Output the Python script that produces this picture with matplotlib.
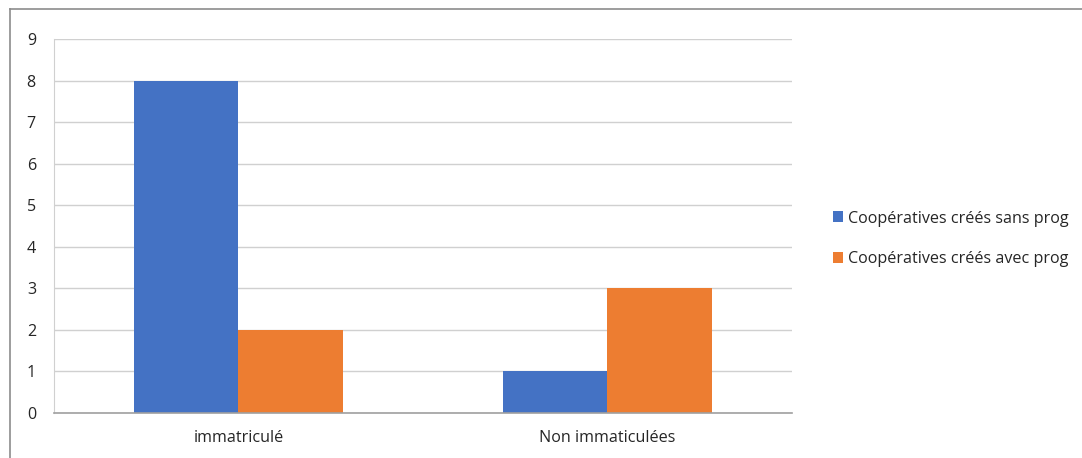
import matplotlib
matplotlib.use("Agg")
import matplotlib.pyplot as plt
from matplotlib.lines import Line2D
from matplotlib.patches import Patch
import numpy as np

plt.rcParams['font.family'] = ['Open Sans', 'DejaVu Sans']

categories = ["immatriculé", "Non immaticulées"]
series_names = ["Coopératives créés sans prog", "Coopératives créés avec prog"]
sans_prog = [8, 1]
avec_prog = [2, 3]
colors = ["#4472C4", "#ED7D31"]
y_ticks = list(range(0, 10))

W, H = 1082, 458
fig = plt.figure(figsize=(W / 100, H / 100), dpi=100)
fig.patch.set_facecolor("white")

# plot area in pixel coordinates
left, right, top, bottom = 54, 792, 39, 413
ax = fig.add_axes([left / W, 1 - bottom / H, (right - left) / W, (bottom - top) / H])

x = np.arange(len(categories))
bw = 0.283
ax.bar(x - bw / 2, sans_prog, width=bw, color=colors[0], zorder=3)
ax.bar(x + bw / 2, avec_prog, width=bw, color=colors[1], zorder=3)

fs = 11.6
txt = "#262626"
ax.set_xlim(-0.5, len(categories) - 0.5)
ax.set_ylim(0, 9)
ax.set_yticks(y_ticks)
ax.set_yticklabels([str(t) for t in y_ticks], fontsize=fs, color=txt)
ax.set_xticks(x)
ax.set_xticklabels(categories, fontsize=fs, color=txt)
ax.tick_params(axis="both", length=0)
ax.tick_params(axis="y", pad=13)
ax.tick_params(axis="x", pad=12)

ax.grid(axis="y", color="#d0d0d0", linewidth=1, zorder=0)
ax.set_axisbelow(True)
for s in ["top", "right"]:
    ax.spines[s].set_visible(False)
ax.spines["left"].set_color("#d0d0d0")
ax.spines["bottom"].set_color("#a0a0a0")
ax.spines["bottom"].set_linewidth(1.2)
ax.spines["bottom"].set_zorder(4)

handles = [Patch(facecolor=c, edgecolor="none") for c in colors]
fig.legend(handles, series_names, loc="center left",
           bbox_to_anchor=(828 / W, 1 - 239 / H), frameon=False,
           fontsize=fs, handlelength=0.65, handleheight=0.65,
           handletextpad=0.3, labelspacing=1.55, labelcolor=txt,
           borderaxespad=0, borderpad=0.3)

# outer chart border (top and left edges)
fig.add_artist(Line2D([10 / W, 1], [1 - 9 / H, 1 - 9 / H], transform=fig.transFigure,
                      color="#8c8c8c", linewidth=1.2))
fig.add_artist(Line2D([10 / W, 10 / W], [0, 1 - 9 / H], transform=fig.transFigure,
                      color="#8c8c8c", linewidth=1.2))

fig.savefig("out.png", dpi=100)
